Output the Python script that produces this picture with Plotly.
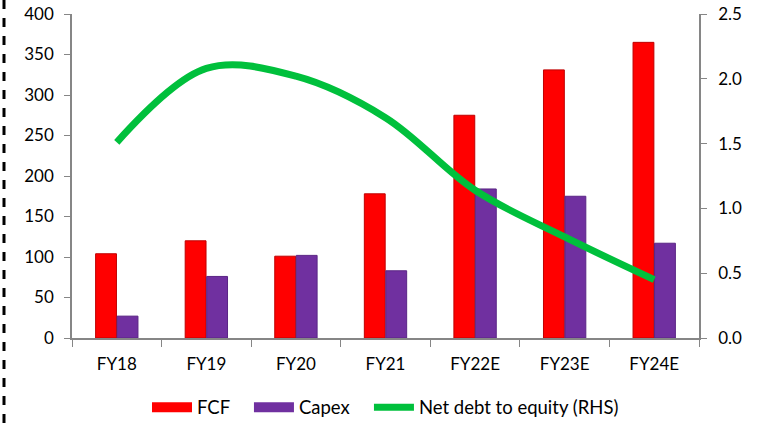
import plotly.graph_objects as go

years = ['FY18', 'FY19', 'FY20', 'FY21', 'FY22E', 'FY23E', 'FY24E']
fcf = [104, 120, 101, 178, 275, 331, 365]
capex = [27, 76, 102, 83, 184, 175, 117]
net_debt_equity = [1.51, 2.08, 2.02, 1.70, 1.14, 0.78, 0.45]

font = 'Lato, Open Sans, sans-serif'
axis_grey = '#868686'
red = '#FF0000'
purple = '#7030A0'
green = '#00C03C'
pad = '\u00a0' * 3

fig = go.Figure()
fig.add_trace(go.Bar(x=years, y=fcf, name='FCF', showlegend=False,
                     marker=dict(color=red, line=dict(color='#C00000', width=1))))
fig.add_trace(go.Bar(x=years, y=capex, name='Capex', showlegend=False,
                     marker=dict(color=purple, line=dict(color='#5A2585', width=1))))
fig.add_trace(go.Scatter(x=years, y=net_debt_equity, name='Net debt to equity (RHS)',
                         mode='lines', yaxis='y2', showlegend=False,
                         line=dict(color=green, width=7, shape='spline', smoothing=1.0)))

# legend entries drawn as wide swatches, like the original
for name, color, width in [('FCF' + pad, red, 10), ('Capex' + pad, purple, 10),
                           ('Net debt to equity (RHS)', green, 7)]:
    fig.add_trace(go.Scatter(x=[None], y=[None], mode='lines', name=name,
                             line=dict(color=color, width=width)))

fig.update_layout(
    width=760, height=423,
    margin=dict(l=72, r=61, t=14, b=85, autoexpand=False),
    paper_bgcolor='white', plot_bgcolor='white',
    font=dict(family=font, size=17, color='black'),
    barmode='group', bargap=0.52, bargroupgap=0.03,
    showlegend=True,
    legend=dict(orientation='h', x=0.5, xanchor='center', y=-0.215, yanchor='middle',
                font=dict(size=18.5), traceorder='normal', itemwidth=40, tracegroupgap=0),
    xaxis=dict(showline=True, linecolor=axis_grey, linewidth=1.5, ticks='outside',
               tickson='boundaries', tickcolor=axis_grey, ticklen=7, showgrid=False,
               ticklabelstandoff=10, automargin=False),
    yaxis=dict(range=[0, 400], dtick=50, showline=True, linecolor=axis_grey, linewidth=1.5,
               ticks='outside', tickcolor=axis_grey, ticklen=6, showgrid=False, zeroline=False,
               ticklabelstandoff=7, automargin=False),
    yaxis2=dict(range=[0, 2.5], dtick=0.5, tickformat='.1f', overlaying='y', side='right',
                showline=True, linecolor=axis_grey, linewidth=1.5, ticks='outside',
                tickcolor=axis_grey, ticklen=6, showgrid=False, zeroline=False,
                ticklabelstandoff=8, automargin=False),
)

# dashed border on the left edge
fig.add_shape(type='line', xref='paper', yref='paper',
              x0=-68 / 627, x1=-68 / 627, y0=-85 / 324, y1=1 + 14 / 324,
              line=dict(color='black', width=3, dash='dash'))

# the page body has a default 8px margin; drop it so the figure sits at the corner
fig.write_html('out.html', config={'displayModeBar': False},
               post_script="document.body.style.margin='0';")
